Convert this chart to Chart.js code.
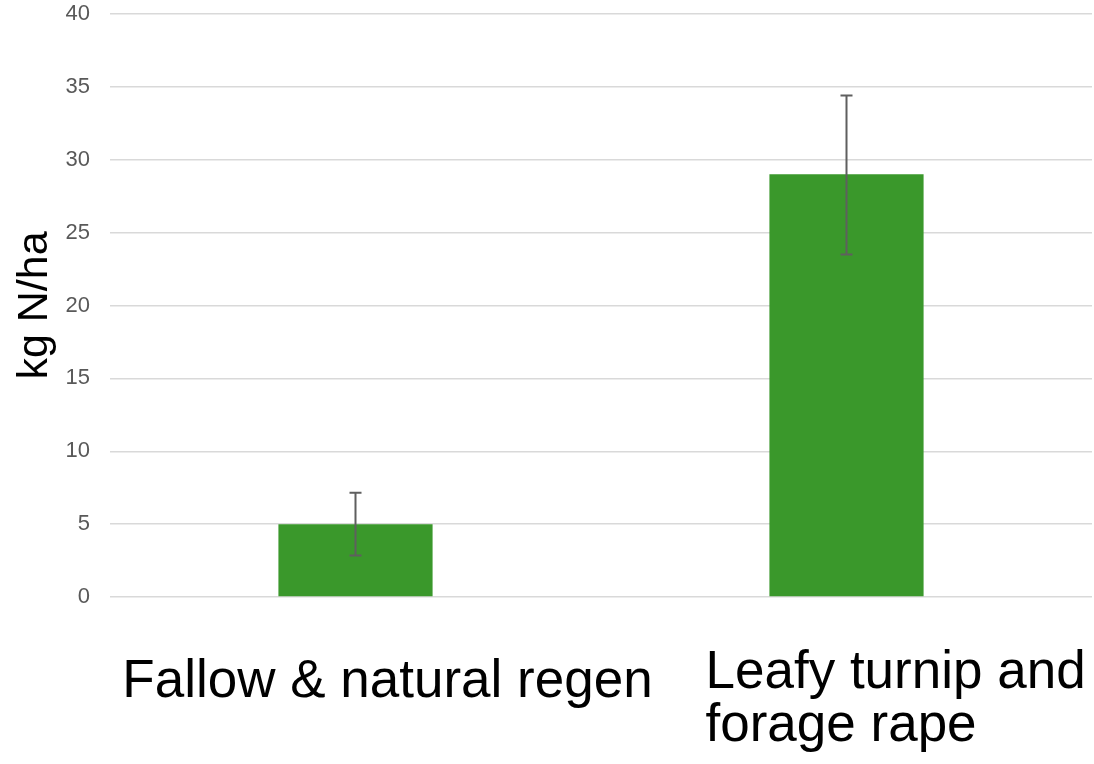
<!DOCTYPE html>
<html>
<head>
    <title>Nitrogen by cover crop</title>
    <script src="https://cdn.jsdelivr.net/npm/chart.js"></script>
    <style>
        body { margin: 0; background: #fff; }
        #wrap { width: 1094px; height: 764px; }
    </style>
</head>
<body>

<div id="wrap"><canvas id="nChart"></canvas></div>

<script>
const categories = [['Fallow & natural regen'], ['Leafy turnip and', 'forage rape']];
const values = [5, 29];
const errHigh = [7.15, 34.4];
const errLow = [2.85, 23.5];
const yTicks = [0, 5, 10, 15, 20, 25, 30, 35, 40];

// error bars drawn from the y scale
const errorBars = {
    id: 'errorBars',
    afterDatasetsDraw(chart) {
        const ctx = chart.ctx, x = chart.scales.x, y = chart.scales.y;
        ctx.save();
        ctx.strokeStyle = '#5f5f5f';
        ctx.lineWidth = 2;
        values.forEach(function(v, i) {
            const cx = x.getPixelForValue(i);
            const top = y.getPixelForValue(errHigh[i]);
            const bot = y.getPixelForValue(errLow[i]);
            ctx.beginPath();
            ctx.moveTo(cx, top); ctx.lineTo(cx, bot);
            ctx.moveTo(cx - 6, top); ctx.lineTo(cx + 6, top);
            ctx.moveTo(cx - 6, bot); ctx.lineTo(cx + 6, bot);
            ctx.stroke();
        });
        ctx.restore();
    }
};

// big category labels under the axis
const catLabels = {
    id: 'catLabels',
    afterDraw(chart) {
        const ctx = chart.ctx, x = chart.scales.x;
        const base = chart.chartArea.bottom;
        ctx.save();
        ctx.fillStyle = '#000';
        ctx.font = '53px "Liberation Sans", Arial, sans-serif';
        ctx.textBaseline = 'alphabetic';
        // first label centred a bit right of the bar, second left-aligned
        ctx.textAlign = 'center';
        categories[0].forEach(function(line, j) {
            ctx.fillText(line, x.getPixelForValue(0) + 32, base + 100 + j * 53);
        });
        ctx.textAlign = 'left';
        categories[1].forEach(function(line, j) {
            ctx.fillText(line, x.getPixelForValue(1) - 141, base + 91 + j * 53);
        });
        ctx.restore();
    }
};

const chart = new Chart(document.getElementById('nChart'), {
    type: 'bar',
    data: {
        labels: categories,
        datasets: [{
            data: values,
            backgroundColor: '#3a982b',
            borderWidth: 0,
            categoryPercentage: 1,
            barPercentage: 0.314
        }]
    },
    options: {
        responsive: true,
        maintainAspectRatio: false,
        animation: false,
        layout: { padding: { top: 14, right: 2, bottom: 159, left: 0 } },
        plugins: { legend: { display: false }, tooltip: { enabled: false } },
        scales: {
            x: {
                grid: { display: false },
                border: { display: false },
                ticks: { display: false }
            },
            y: {
                min: 0,
                max: 40,
                afterBuildTicks: function(scale) {
                    scale.ticks = yTicks.map(function(v) { return { value: v }; });
                },
                afterFit: function(scale) {
                    scale.width = 110;
                    scale.paddingTop = 0;
                    scale.paddingBottom = 0;
                },
                grid: { color: '#d9d9d9', lineWidth: 1.5, drawTicks: false },
                border: { display: false },
                ticks: {
                    color: '#595959',
                    padding: 20,
                    font: { family: '"Liberation Sans", Arial, sans-serif', size: 22 }
                },
                title: {
                    display: true,
                    text: 'kg N/ha',
                    color: '#000',
                    padding: { top: 9, bottom: 0 },
                    font: { family: '"Liberation Sans", Arial, sans-serif', size: 43 }
                }
            }
        }
    },
    plugins: [errorBars, catLabels]
});
</script>

</body>
</html>
